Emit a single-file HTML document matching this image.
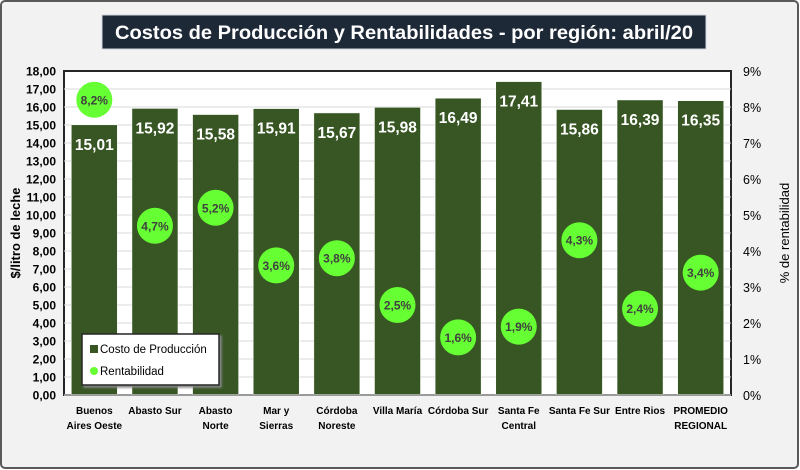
<!DOCTYPE html>
<html><head><meta charset="utf-8"><style>
html,body{margin:0;padding:0;background:#fff;}
svg{display:block;font-family:"Liberation Sans",sans-serif;}
</style></head><body>
<svg id="chart" width="800" height="470">
<rect x="1" y="1" width="797" height="467" rx="4" fill="#f2f2f2" stroke="#595959" stroke-width="2"/>
<rect x="102" y="15" width="604" height="34" fill="#1e2938" stroke="#cfd5dd" stroke-width="1"/>
<text x="404" y="39" text-anchor="middle" fill="#fff" font-size="19" font-weight="bold" textLength="578" lengthAdjust="spacingAndGlyphs">Costos de Producción y Rentabilidades - por región: abril/20</text>
<rect x="64" y="71" width="667" height="324" fill="#fff" stroke="#262626" stroke-width="2"/>
<g id="grid"></g><g id="bars"></g><g id="dots"></g><g id="axes"></g>
<text transform="translate(20,233) rotate(-90)" text-anchor="middle" font-size="13" font-weight="bold" fill="#000">$/litro de leche</text>
<text transform="translate(789,233) rotate(-90)" text-anchor="middle" font-size="13" fill="#000">% de rentabilidad</text>
<g>
<rect x="82" y="334" width="137" height="51" fill="#fff" stroke="#262626" stroke-width="1.5" style="filter:drop-shadow(2px 2px 1px #888)"/>
<rect x="90" y="345" width="8" height="8" fill="#375623"/>
<text x="100" y="353" font-size="11.5" fill="#000">Costo de Producción</text>
<circle cx="94" cy="371" r="4" fill="#66ff33"/>
<text x="100" y="375" font-size="11.5" fill="#000">Rentabilidad</text>
</g>
</svg>
<script>
const categories=[["Buenos","Aires Oeste"],["Abasto Sur"],["Abasto","Norte"],["Mar y","Sierras"],["Córdoba","Noreste"],["Villa María"],["Córdoba Sur"],["Santa Fe","Central"],["Santa Fe Sur"],["Entre Rios"],["PROMEDIO","REGIONAL"]];
const costs=[15.01,15.92,15.58,15.91,15.67,15.98,16.49,17.41,15.86,16.39,16.35];
const rent=[8.2,4.7,5.2,3.6,3.8,2.5,1.6,1.9,4.3,2.4,3.4];
const yTicks=[0,1,2,3,4,5,6,7,8,9,10,11,12,13,14,15,16,17,18];
const y2Ticks=[0,1,2,3,4,5,6,7,8,9];
const NS="http://www.w3.org/2000/svg";
const L=64,R=731,T=71,B=395;
const y=v=>B-(v/18)*(B-T);
const y2=v=>B-(v/9)*(B-T);
const bw=(R-L)/categories.length;
const xc=i=>L+bw*(i+0.5);
const fmt=(v,d)=>v.toFixed(d).replace('.',',');
function mk(tag,attrs,parent,text){const e=document.createElementNS(NS,tag);for(const k in attrs)e.setAttribute(k,attrs[k]);if(text!==undefined)e.textContent=text;document.getElementById(parent).appendChild(e);return e;}
yTicks.forEach(t=>{
  if(t>0&&t<18){const g=mk('line',{x1:L,x2:R,y1:y(t),y2:y(t),stroke:'#d9d9d9','stroke-width':1},'grid');
  
  }
  const l=mk('text',{x:56,y:y(t)+4.5,'text-anchor':'end','font-size':12,'font-weight':'bold',fill:'#000'},'axes',fmt(t,2));
  
  
});
y2Ticks.forEach(t=>{
  const l=mk('text',{x:743,y:y2(t)+5,'font-size':12.5,fill:'#000'},'axes',t+'%');
  
  
});
categories.forEach((c,i)=>{
  const b=mk('rect',{x:xc(i)-23,y:y(costs[i]),width:46,height:B-y(costs[i]),fill:'#375623',stroke:'#fff','stroke-width':0.5},'bars');
  
  
  const v=mk('text',{x:xc(i),y:y(costs[i])+25,'text-anchor':'middle','font-size':15.5,'font-weight':'bold',fill:'#fff'},'bars',fmt(costs[i],2));
  
  
  const d=mk('circle',{cx:xc(i),cy:y2(rent[i]),r:18,fill:'#66ff33'},'dots');
  
  
  const dl=mk('text',{x:xc(i),y:y2(rent[i])+4.5,'text-anchor':'middle','font-size':12,'font-weight':'bold',fill:'#404040'},'dots',fmt(rent[i],1)+'%');
  
  
  c.forEach((line,j)=>{
    const t=mk('text',{x:xc(i),y:414+j*15,'text-anchor':'middle','font-size':10,'font-weight':'bold',fill:'#000'},'axes',line);
    
    
  });
});
const ax=mk('line',{x1:L,x2:R,y1:B,y2:B,stroke:'#bfbfbf','stroke-width':1.5},'axes');


</script>
</body></html>
